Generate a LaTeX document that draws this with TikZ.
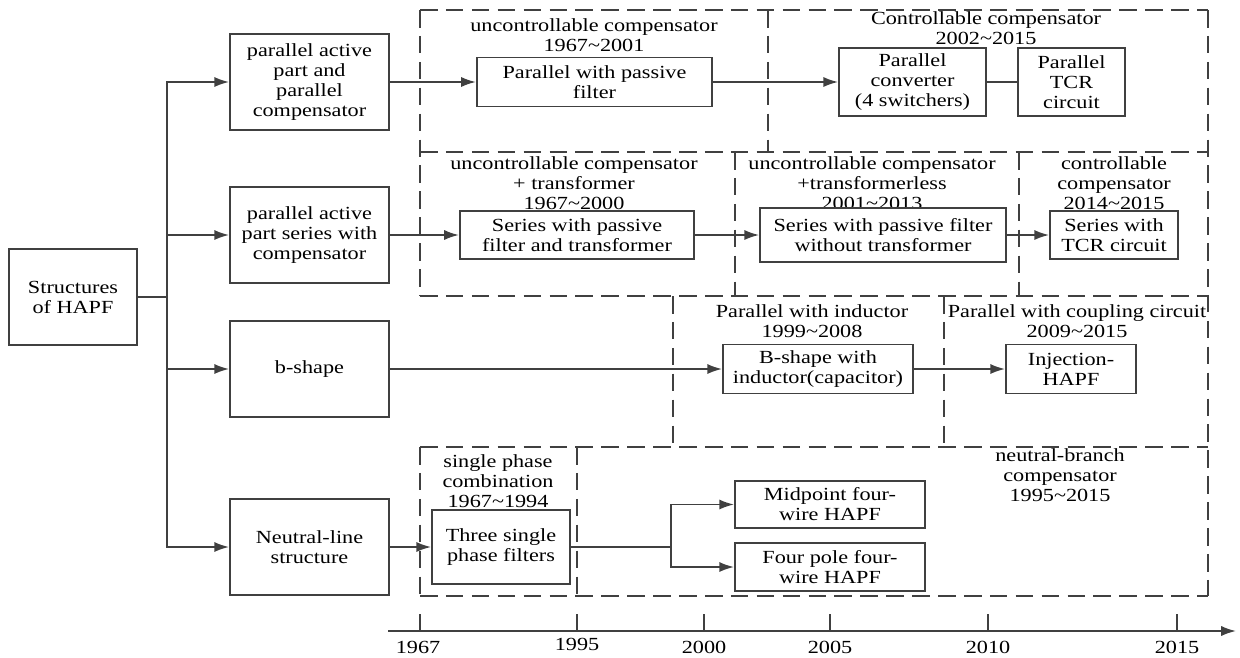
\documentclass[tikz,border=0pt]{standalone}
\usepackage{fontspec}
\setmainfont{Liberation Serif}[FakeStretch=1.2]
\usetikzlibrary{arrows.meta}

\tikzset{
  box/.style={draw=black!75, line width=1pt, fill=white, align=center, inner sep=1pt},
  frame/.style={draw=black!75, line width=1pt, dash pattern=on 9.5pt off 4.5pt},
  lbl/.style={anchor=north, align=center, inner sep=0pt},
  wire/.style={draw=black!75, line width=1pt},
  arr/.style={-{Latex[length=8pt,width=5.5pt]}},
}

\begin{document}
\begin{tikzpicture}[x=0.019cm, y=-0.019cm, font=\fontsize{10}{10.8}\selectfont]
        \useasboundingbox (0,0) rectangle (1240,657);

        %% dashed frames of the periods (shared edges drawn once)
        \draw [frame] (420,10) -- (1208,10);
        \draw [frame] (420,152) -- (1208,152);
        \draw [frame] (420,296) -- (1208,296);
        \draw [frame] (420,447) -- (1208,447);
        \draw [frame] (420,596) -- (1208,596);
        \draw [frame] (420,10) -- (420,296);
        \draw [frame] (420,447) -- (420,596);
        \draw [frame] (1208,10) -- (1208,596);
        \draw [frame] (768,10) -- (768,152);
        \draw [frame] (735,152) -- (735,296);
        \draw [frame] (1019,152) -- (1019,296);
        \draw [frame] (673,296) -- (673,447);
        \draw [frame] (944,296) -- (944,447);
        \draw [frame] (577,447) -- (577,596);

        \node [lbl] (ucA) at (594,18) {uncontrollable compensator\\1967\textasciitilde2001};
        \node [lbl] (ccB) at (986,11) {Controllable compensator\\2002\textasciitilde2015};
        \node [lbl] (ucD) at (574,156) {uncontrollable compensator\\+ transformer\\1967\textasciitilde2000};
        \node [lbl] (ucE) at (872,156) {uncontrollable compensator\\+transformerless\\2001\textasciitilde2013};
        \node [lbl] (ccF) at (1114,156) {controllable\\compensator\\2014\textasciitilde2015};
        \node [lbl] (piG) at (812,304) {Parallel with inductor\\1999\textasciitilde2008};
        \node [lbl] (pcH) at (1077,304) {Parallel with coupling circuit\\2009\textasciitilde2015};
        \node [lbl] (spI) at (498,454) {single phase\\combination\\1967\textasciitilde1994};
        \node [lbl] (nbJ) at (1060,448) {neutral-branch\\compensator\\1995\textasciitilde2015};

        %% structures
        \node [box, minimum width=2.43cm, minimum height=1.81cm] (root) at (73,297) {Structures\\of HAPF};
        \coordinate (trunk) at (167,297);

        \node [box, minimum width=3.02cm, minimum height=1.82cm] (lvl1) at (309.5,82) {parallel active\\part and\\parallel\\compensator};
        \node [box, minimum width=3.02cm, minimum height=1.82cm] (lvl2) at (309.5,235) {parallel active\\part series with\\compensator};
        \node [box, minimum width=3.02cm, minimum height=1.82cm] (lvl3) at (309.5,369) {b-shape};
        \node [box, minimum width=3.02cm, minimum height=1.82cm] (lvl4) at (309.5,547) {Neutral-line\\structure};

        \draw [wire] (root.east) -- (trunk);
        \draw [wire, arr] (trunk) |- (lvl1.west);
        \draw [wire, arr] (trunk) |- (lvl2.west);
        \draw [wire, arr] (trunk) |- (lvl3.west);
        \draw [wire, arr] (trunk) |- (lvl4.west);

        %% parallel row
        \node [box, minimum width=4.47cm, minimum height=0.93cm] (pf) at (594.5,82) {Parallel with passive\\filter};
        \node [box, minimum width=2.79cm, minimum height=1.29cm] (pc) at (912.5,82) {Parallel\\converter\\(4 switchers)};
        \node [box, minimum width=2.03cm, minimum height=1.29cm] (ptcr) at (1071.5,82) {Parallel\\TCR\\circuit};

        \draw [wire, arr] (lvl1.east) -- (pf.west);
        \draw [wire, arr] (pf.east) -- (pc.west);
        \draw [wire] (pc.east) -- (ptcr.west);

        %% series row
        \node [box, minimum width=4.45cm, minimum height=0.91cm] (spt) at (577,235) {Series with passive\\filter and transformer};
        \node [box, minimum width=4.67cm, minimum height=1.01cm] (spw) at (883,235) {Series with passive filter\\without transformer};
        \node [box, minimum width=2.43cm, minimum height=0.91cm] (stcr) at (1114,235) {Series with\\TCR circuit};

        \draw [wire, arr] (lvl2.east) -- (spt.west);
        \draw [wire, arr] (spt.east) -- (spw.west);
        \draw [wire, arr] (spw.east) -- (stcr.west);

        %% b-shape row
        \node [box, minimum width=3.61cm, minimum height=0.93cm] (bsi) at (818,369) {B-shape with\\inductor(capacitor)};
        \node [box, minimum width=2.47cm, minimum height=0.93cm] (inj) at (1071,369) {Injection-\\HAPF};

        \draw [wire, arr] (lvl3.east) -- (bsi.west);
        \draw [wire, arr] (bsi.east) -- (inj.west);

        %% neutral-line row
        \node [box, minimum width=2.62cm, minimum height=1.39cm] (tsp) at (501,547) {Three single\\phase filters};
        \node [box, minimum width=3.61cm, minimum height=0.89cm] (mid) at (830,504.5) {Midpoint four-\\wire HAPF};
        \node [box, minimum width=3.61cm, minimum height=0.91cm] (fp) at (830,567) {Four pole four-\\wire HAPF};
        \coordinate (split) at (671,547);

        \draw [wire, arr] (lvl4.east) -- (tsp.west);
        \draw [wire] (tsp.east) -- (split);
        \draw [wire, arr] (split) |- (mid.west);
        \draw [wire, arr] (split) |- (fp.west);

        %% time line
        \coordinate (tl0) at (388,631);
        \coordinate (tl1) at (1236,631);
        \draw [wire, arr] (tl0) -- (tl1);

        \draw [wire] (420,614) -- (420,631);
        \draw [wire] (577,614) -- (577,631);
        \draw [wire] (704,614) -- (704,631);
        \draw [wire] (830,614) -- (830,631);
        \draw [wire] (988,614) -- (988,631);
        \draw [wire] (1177,614) -- (1177,631);

        \node (y1967) at (418,647) {1967};
        \node (y1995) at (577,644) {1995};
        \node (y2000) at (704,647) {2000};
        \node (y2005) at (830,647) {2005};
        \node (y2010) at (988,647) {2010};
        \node (y2015) at (1177,647) {2015};

    \end{tikzpicture}
\end{document}
